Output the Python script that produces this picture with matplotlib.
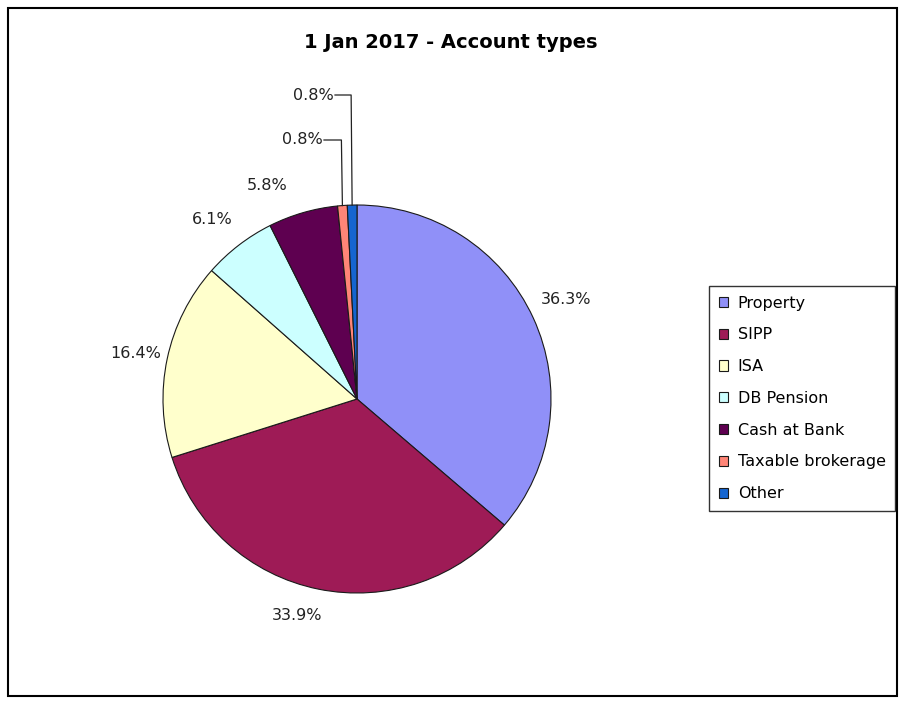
import numpy as np
import matplotlib.pyplot as plt
from matplotlib.patches import Rectangle

# data
accounts = ["Property", "SIPP", "ISA", "DB Pension", "Cash at Bank",
            "Taxable brokerage", "Other"]
shares = [36.3, 33.9, 16.4, 6.1, 5.8, 0.8, 0.8]
colors = ["#9090f8", "#9e1b56", "#ffffcc", "#ccffff", "#5e0050",
          "#ff8577", "#1565d0"]

# label placement (pixels from top-left), layout only
label_pos = [(566, 300), (297, 615), (136, 353), (212, 219), (267, 186),
             (303, 140), (314, 95)]
leader = [False, False, False, False, False, True, True]

W, H = 906, 704
fig = plt.figure(figsize=(W / 100, H / 100), dpi=100)
ax = fig.add_axes([0, 0, 1, 1])

cx, cy, r = 357, H - 399, 194
wedges, _ = ax.pie(shares, colors=colors, startangle=90, counterclock=False,
                   center=(cx, cy), radius=r, frame=True,
                   wedgeprops=dict(edgecolor="#1a1a1a", linewidth=0.8))
ax.set_xlim(0, W)
ax.set_ylim(0, H)
ax.axis("off")

for w, val, (lx, ly), lead in zip(wedges, shares, label_pos, leader):
    txt = f"{val:.1f}%"
    if lead:
        ang = np.deg2rad((w.theta1 + w.theta2) / 2)
        ex = cx + r * np.cos(ang)
        ey = cy + r * np.sin(ang)
        ax.text(lx + 20, H - ly, txt, ha="right", va="center",
                fontsize=11.5, color="#222222")
        ax.plot([lx + 21, ex - 1, ex], [H - ly, H - ly, ey],
                color="#222222", lw=0.9)
    else:
        ax.text(lx, H - ly, txt, ha="center", va="center", fontsize=11.5,
                color="#222222")

fig.text(451 / W, 1 - 42 / H, "1 Jan 2017 - Account types", ha="center",
         va="center", fontsize=14, fontweight="bold")

leg = ax.legend(wedges, accounts, loc="upper left",
                bbox_to_anchor=(709 / W, 1 - 286 / H), bbox_transform=fig.transFigure,
                fontsize=11.5, frameon=True, fancybox=False, borderpad=0.6,
                labelspacing=1.05, handlelength=0.6, handleheight=0.6,
                handletextpad=0.6, borderaxespad=0)
leg.get_frame().set_edgecolor("black")
leg.get_frame().set_linewidth(1.0)

fig.patches.append(Rectangle((8 / W, 8 / H), (897 - 8) / W, (696 - 8) / H,
                             transform=fig.transFigure, fill=False,
                             edgecolor="black", linewidth=1.5))

fig.savefig("out.png", dpi=100)
